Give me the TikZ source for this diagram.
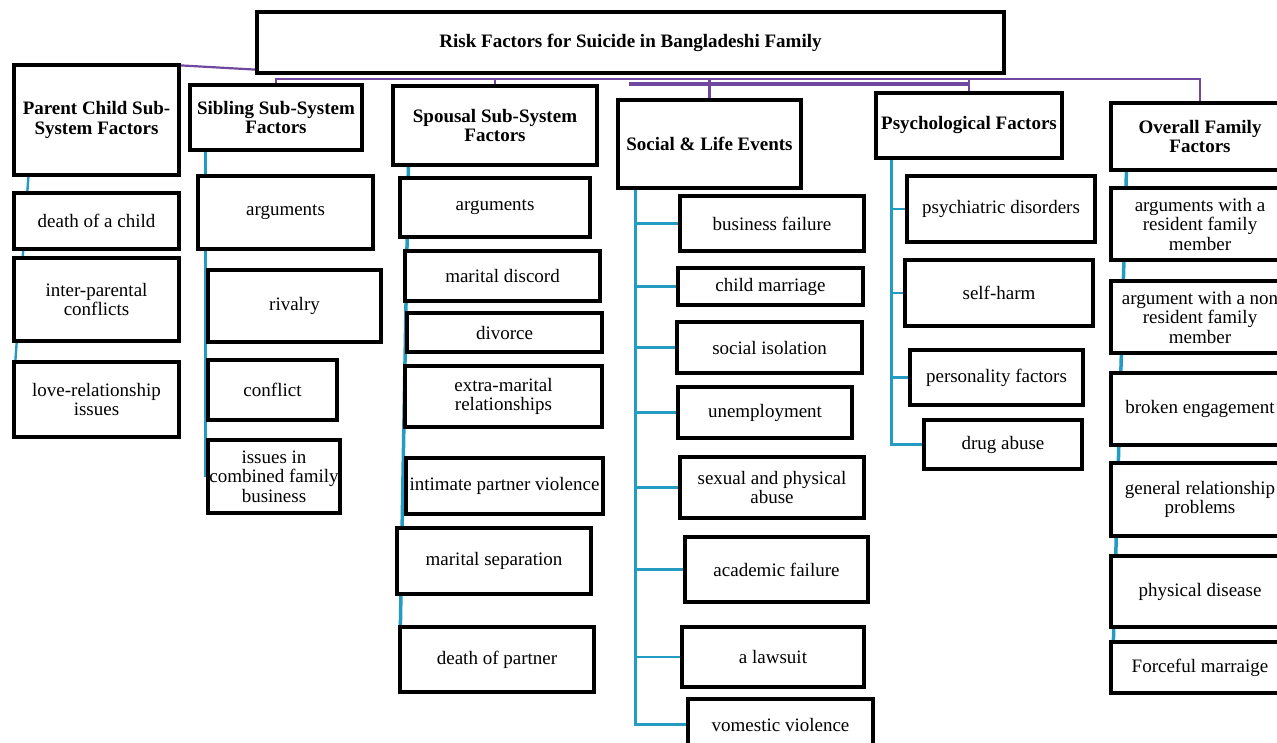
\documentclass[tikz,border=0pt]{standalone}
\usepackage{fontspec}
\setmainfont{Liberation Serif}
\usetikzlibrary{backgrounds}
\definecolor{buspurple}{RGB}{112,72,160}
\definecolor{linkblue}{RGB}{35,155,195}
\begin{document}
\begin{tikzpicture}[x=1pt, y=-1pt,
  box/.style = {shape=rectangle, draw, line width=3.2pt, fill=white,
    align=center, inner sep=0pt, font=\fontsize{19}{19.5}\selectfont},
  head/.style = {box, font=\fontsize{19}{19.5}\selectfont\bfseries},
  wh/.style 2 args = {minimum width=#1pt, minimum height=#2pt},
  link/.style = {draw=linkblue, line width=2.4pt},
  bus/.style = {draw=buspurple, line width=2.2pt}]
  \useasboundingbox (0,0) rectangle (1277,742);
  \clip (0,0) rectangle (1277,742);
  \node[head, wh={747}{61}] (top) at (630.5,42.5) {Risk Factors for Suicide in Bangladeshi Family};
  \node[head, wh={165}{110}] (par) at (96.5,120) {Parent Child Sub-\\System Factors};
  \node[head, wh={172}{65}] (sib) at (276,117.5) {Sibling Sub-System\\Factors};
  \node[head, wh={204}{79}] (spo) at (495,125.5) {Spousal Sub-System\\Factors};
  \node[head, wh={183}{88}] (soc) at (709.5,144) {Social \& Life Events};
  \node[head, wh={186}{65}] (psy) at (969,125.5) {Psychological Factors};
  \node[head, wh={178}{67}] (ovr) at (1200,136.5) {Overall Family\\Factors};

  \node[box, wh={165}{56}] (dch) at (96.5,221) {death of a child};
  \node[box, wh={165}{83}] (ipc) at (96.5,299.5) {inter-parental\\conflicts};
  \node[box, wh={165}{75}] (lov) at (96.5,399.5) {love-relationship\\issues};

  \node[box, wh={175}{73}] (sar) at (285.5,212.5) {arguments};
  \node[box, wh={173}{72}] (riv) at (294.5,306) {rivalry};
  \node[box, wh={129}{60}] (con) at (272.5,390) {conflict};
  \node[box, wh={132}{73}] (iss) at (274,476.5) {issues in\\combined family\\business};

  \node[box, wh={190}{59}] (par2) at (495,207.5) {arguments};
  \node[box, wh={195}{50}] (mdi) at (502.5,276) {marital discord};
  \node[box, wh={195}{39}] (div) at (504.5,332.5) {divorce};
  \node[box, wh={197}{61}] (emr) at (503.5,396.5) {extra-marital\\relationships};
  \node[box, wh={197}{56}] (ipv) at (504.5,486) {intimate partner violence};
  \node[box, wh={194}{66}] (msp) at (494,561) {marital separation};
  \node[box, wh={194}{65}] (dop) at (497,659.5) {death of partner};

  \node[box, wh={184}{55}] (bfl) at (772,223.5) {business failure};
  \node[box, wh={185}{37}] (chm) at (770.5,286.5) {child marriage};
  \node[box, wh={185}{51}] (iso) at (769.5,347.5) {social isolation};
  \node[box, wh={174}{51}] (une) at (765,412.5) {unemployment};
  \node[box, wh={184}{61}] (sex) at (772,487.5) {sexual and physical\\abuse};
  \node[box, wh={183}{65}] (aca) at (776.5,569.5) {academic failure};
  \node[box, wh={182}{60}] (law) at (773,657) {a lawsuit};
  \node[box, wh={185}{51}] (vom) at (780.5,724.5) {vomestic violence};

  \node[box, wh={188}{66}] (psd) at (1001,209) {psychiatric disorders};
  \node[box, wh={188}{66}] (slf) at (999,293) {self-harm};
  \node[box, wh={173}{55}] (per) at (996.5,377.5) {personality factors};
  \node[box, wh={158}{49}] (drg) at (1003,444.5) {drug abuse};

  \node[box, wh={178}{72}] (arr) at (1200,224) {arguments with a\\resident family\\member};
  \node[box, wh={178}{72}] (arn) at (1200,317) {argument with a non\\resident family\\member};
  \node[box, wh={178}{72}] (brk) at (1200,409) {broken engagement};
  \node[box, wh={178}{73}] (grp) at (1200,499.5) {general relationship\\problems};
  \node[box, wh={178}{71}] (phd) at (1200,591.5) {physical disease};
  \node[box, wh={178}{51}] (frc) at (1200,667.5) {Forceful marraige};

  \begin{scope}[on background layer]
    \coordinate (bus) at (0,79);
    \coordinate (bus2) at (629,84);
    \draw[bus] ([yshift=-2pt]par.north east) -- ([yshift=5pt]top.south west);
    \draw[bus] (sib.north) -- (sib.north |- bus) -- (ovr.north |- bus) -- (ovr.north);
    \foreach \n in {spo,soc,psy}
      \draw[bus] (\n.north) -- (\n.north |- bus);
    \draw[bus, line width=4pt] (bus2) -- (psy.north |- bus2);

    \draw[link] ([xshift=16pt]par.south west) -- ([xshift=3pt]lov.north west);
    \draw[link] ([xshift=17pt]sib.south west) -- ([xshift=-1pt]iss.west);
    \draw[link, line width=3.5pt] ([xshift=17pt]spo.south west) -- ([xshift=2pt]dop.north west);

    \coordinate (socx) at ([xshift=19pt]soc.south west);
    \draw[link] (socx) |- (vom.west);
    \foreach \n in {bfl,chm,iso,une,sex,aca,law}
      \draw[link] (\n.west) -- (socx |- \n.west);

    \coordinate (psyx) at ([xshift=17pt]psy.south west);
    \draw[link] (psyx) |- (drg.west);
    \foreach \n in {psd,slf,per}
      \draw[link] (\n.west) -- (psyx |- \n.west);

    \draw[link, line width=3.5pt] ([xshift=17pt]ovr.south west) -- ([xshift=4pt]frc.north west);
  \end{scope}
\end{tikzpicture}
\end{document}
